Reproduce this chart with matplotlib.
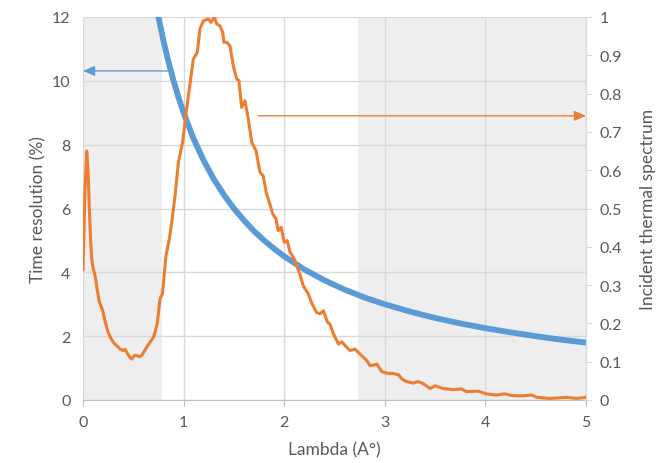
import matplotlib
matplotlib.use("Agg")
import matplotlib.pyplot as plt

plt.rcParams['font.family'] = ['Lato', 'DejaVu Sans']

# Time resolution (%) - left axis
blue_x = [0.70, 0.75, 0.80, 0.85, 0.90, 0.95, 1.0, 1.1, 1.2, 1.3, 1.4, 1.5, 1.6, 1.7, 1.8, 1.9,
          2.0, 2.2, 2.4, 2.6, 2.8, 3.0, 3.25, 3.5, 3.75, 4.0, 4.25, 4.5, 4.75, 5.0]
blue_y = [12.86, 12.0, 11.25, 10.59, 10.0, 9.47, 9.0, 8.18, 7.5, 6.92, 6.43, 6.0, 5.63, 5.29, 5.0, 4.74,
          4.5, 4.09, 3.75, 3.46, 3.21, 3.0, 2.77, 2.57, 2.4, 2.25, 2.12, 2.0, 1.89, 1.8]

# Incident thermal spectrum - right axis
orange_x = [0.0, 0.02, 0.037, 0.05, 0.063, 0.075, 0.086, 0.10, 0.12, 0.14, 0.162, 0.18, 0.196, 0.22,
            0.25, 0.275, 0.30, 0.33, 0.35, 0.37, 0.40, 0.42, 0.44, 0.47, 0.484, 0.51, 0.534, 0.56,
            0.583, 0.61, 0.633, 0.67, 0.70, 0.72, 0.74, 0.765, 0.79, 0.825, 0.858, 0.885, 0.915,
            0.948, 0.99, 1.03, 1.07, 1.097, 1.136, 1.163, 1.196, 1.246, 1.272, 1.305, 1.329, 1.36,
            1.389, 1.40, 1.428, 1.46, 1.494, 1.528, 1.55, 1.577, 1.61, 1.643, 1.677, 1.72, 1.76,
            1.79, 1.825, 1.859, 1.886, 1.918, 1.94, 1.97, 2.0, 2.03, 2.058, 2.09, 2.107, 2.157,
            2.19, 2.24, 2.27, 2.32, 2.356, 2.39, 2.43, 2.455, 2.49, 2.54, 2.573, 2.62, 2.654, 2.704,
            2.753, 2.82, 2.853, 2.89, 2.92, 2.97, 3.02, 3.085, 3.135, 3.17, 3.2, 3.235, 3.28, 3.33,
            3.38, 3.45, 3.5, 3.58, 3.68, 3.76, 3.81, 3.93, 4.01, 4.11, 4.19, 4.28, 4.38, 4.46, 4.51,
            4.64, 4.81, 4.91, 5.0]
orange_y = [0.34, 0.55, 0.65, 0.60, 0.50, 0.42, 0.37, 0.345, 0.325, 0.29, 0.256, 0.245, 0.233, 0.205,
            0.177, 0.162, 0.151, 0.143, 0.138, 0.133, 0.129, 0.132, 0.122, 0.110, 0.107, 0.116, 0.116, 0.113,
            0.116, 0.128, 0.138, 0.152, 0.164, 0.18, 0.203, 0.264, 0.277, 0.377, 0.42, 0.47, 0.533,
            0.62, 0.673, 0.76, 0.838, 0.89, 0.908, 0.969, 0.99, 0.995, 0.986, 1.0, 0.982, 0.977,
            0.96, 0.934, 0.934, 0.925, 0.873, 0.838, 0.834, 0.764, 0.781, 0.734, 0.673, 0.651, 0.594,
            0.586, 0.538, 0.51, 0.486, 0.473, 0.442, 0.451, 0.412, 0.416, 0.386, 0.373, 0.364, 0.327,
            0.298, 0.277, 0.255, 0.229, 0.225, 0.233, 0.203, 0.198, 0.172, 0.146, 0.152, 0.138, 0.129, 0.133,
            0.12, 0.103, 0.09, 0.091, 0.094, 0.074, 0.07, 0.069, 0.066, 0.055, 0.05, 0.047, 0.044, 0.048,
            0.043, 0.030, 0.037, 0.030, 0.027, 0.029, 0.022, 0.023, 0.016, 0.013, 0.016, 0.011, 0.011, 0.013, 0.007,
            0.004, 0.007, 0.004, 0.007]

shade_spans = [(0.0, 0.785), (2.73, 5.0)]
blue_arrow = (0.845, 10.31)   # from x to 0 at y
orange_arrow = (1.74, 0.742)  # from x to 5 at y (right axis)

BLUE = '#5B9BD5'
ORANGE = '#ED7D31'
TXT = '#595959'
GRID = '#D9D9D9'

fig = plt.figure(figsize=(6.67, 4.64), dpi=100)
ax = fig.add_axes([83/667, 63/464, 503/667, 383/464])
ax2 = ax.twinx()

for a, b in shade_spans:
    ax.axvspan(a, b, color='#EEEEEE', zorder=0.1, lw=0)

ax.set_xlim(0, 5)
ax.set_ylim(0, 12)
ax2.set_ylim(0, 1)
ax.set_xticks(range(0, 6))
ax.set_yticks(range(0, 13, 2))
ax2.set_yticks([i / 10 for i in range(11)])
ax2.set_yticklabels(['0'] + [f'{i/10:.1f}' for i in range(1, 10)] + ['1'])

ax.set_axisbelow(True)
ax.grid(True, color=GRID, lw=1.0, zorder=0.5)

for sp in ['top', 'left']:
    ax.spines[sp].set_visible(False)
    ax2.spines[sp].set_visible(False)
ax.spines['bottom'].set_color('#BFBFBF')
ax2.spines['bottom'].set_visible(False)
ax2.spines['right'].set_color(GRID)
ax.spines['right'].set_visible(False)

ax.tick_params(axis='x', length=4, color='#BFBFBF', pad=7, labelsize=11.5, labelcolor=TXT)
ax.tick_params(axis='y', length=0, labelsize=11.5, labelcolor=TXT, pad=9)
ax2.tick_params(axis='y', length=4, color=GRID, labelsize=11.5, labelcolor=TXT, pad=6)

ax.plot(blue_x, blue_y, color=BLUE, lw=4.2, solid_capstyle='butt', zorder=3)
ax2.plot(orange_x, orange_y, color=ORANGE, lw=2.2, zorder=3)

ax.annotate('', xy=(0.0, blue_arrow[1]), xytext=(blue_arrow[0], blue_arrow[1]),
            arrowprops=dict(arrowstyle='-|>,head_length=0.7,head_width=0.3', color=BLUE, lw=1.0,
                            shrinkA=0, shrinkB=0), zorder=4)
ax2.annotate('', xy=(5.0, orange_arrow[1]), xytext=(orange_arrow[0], orange_arrow[1]),
             arrowprops=dict(arrowstyle='-|>,head_length=0.7,head_width=0.3', color=ORANGE, lw=1.0,
                             shrinkA=0, shrinkB=0), zorder=4)

ax.set_xlabel('Lambda (A°)', color=TXT, fontsize=12.5, labelpad=9)
ax.set_ylabel('Time resolution (%)', color=TXT, fontsize=12.5, labelpad=4)
ax2.set_ylabel('Incident thermal spectrum', color=TXT, fontsize=12.5, labelpad=13)

fig.savefig('out.png', dpi=100)
